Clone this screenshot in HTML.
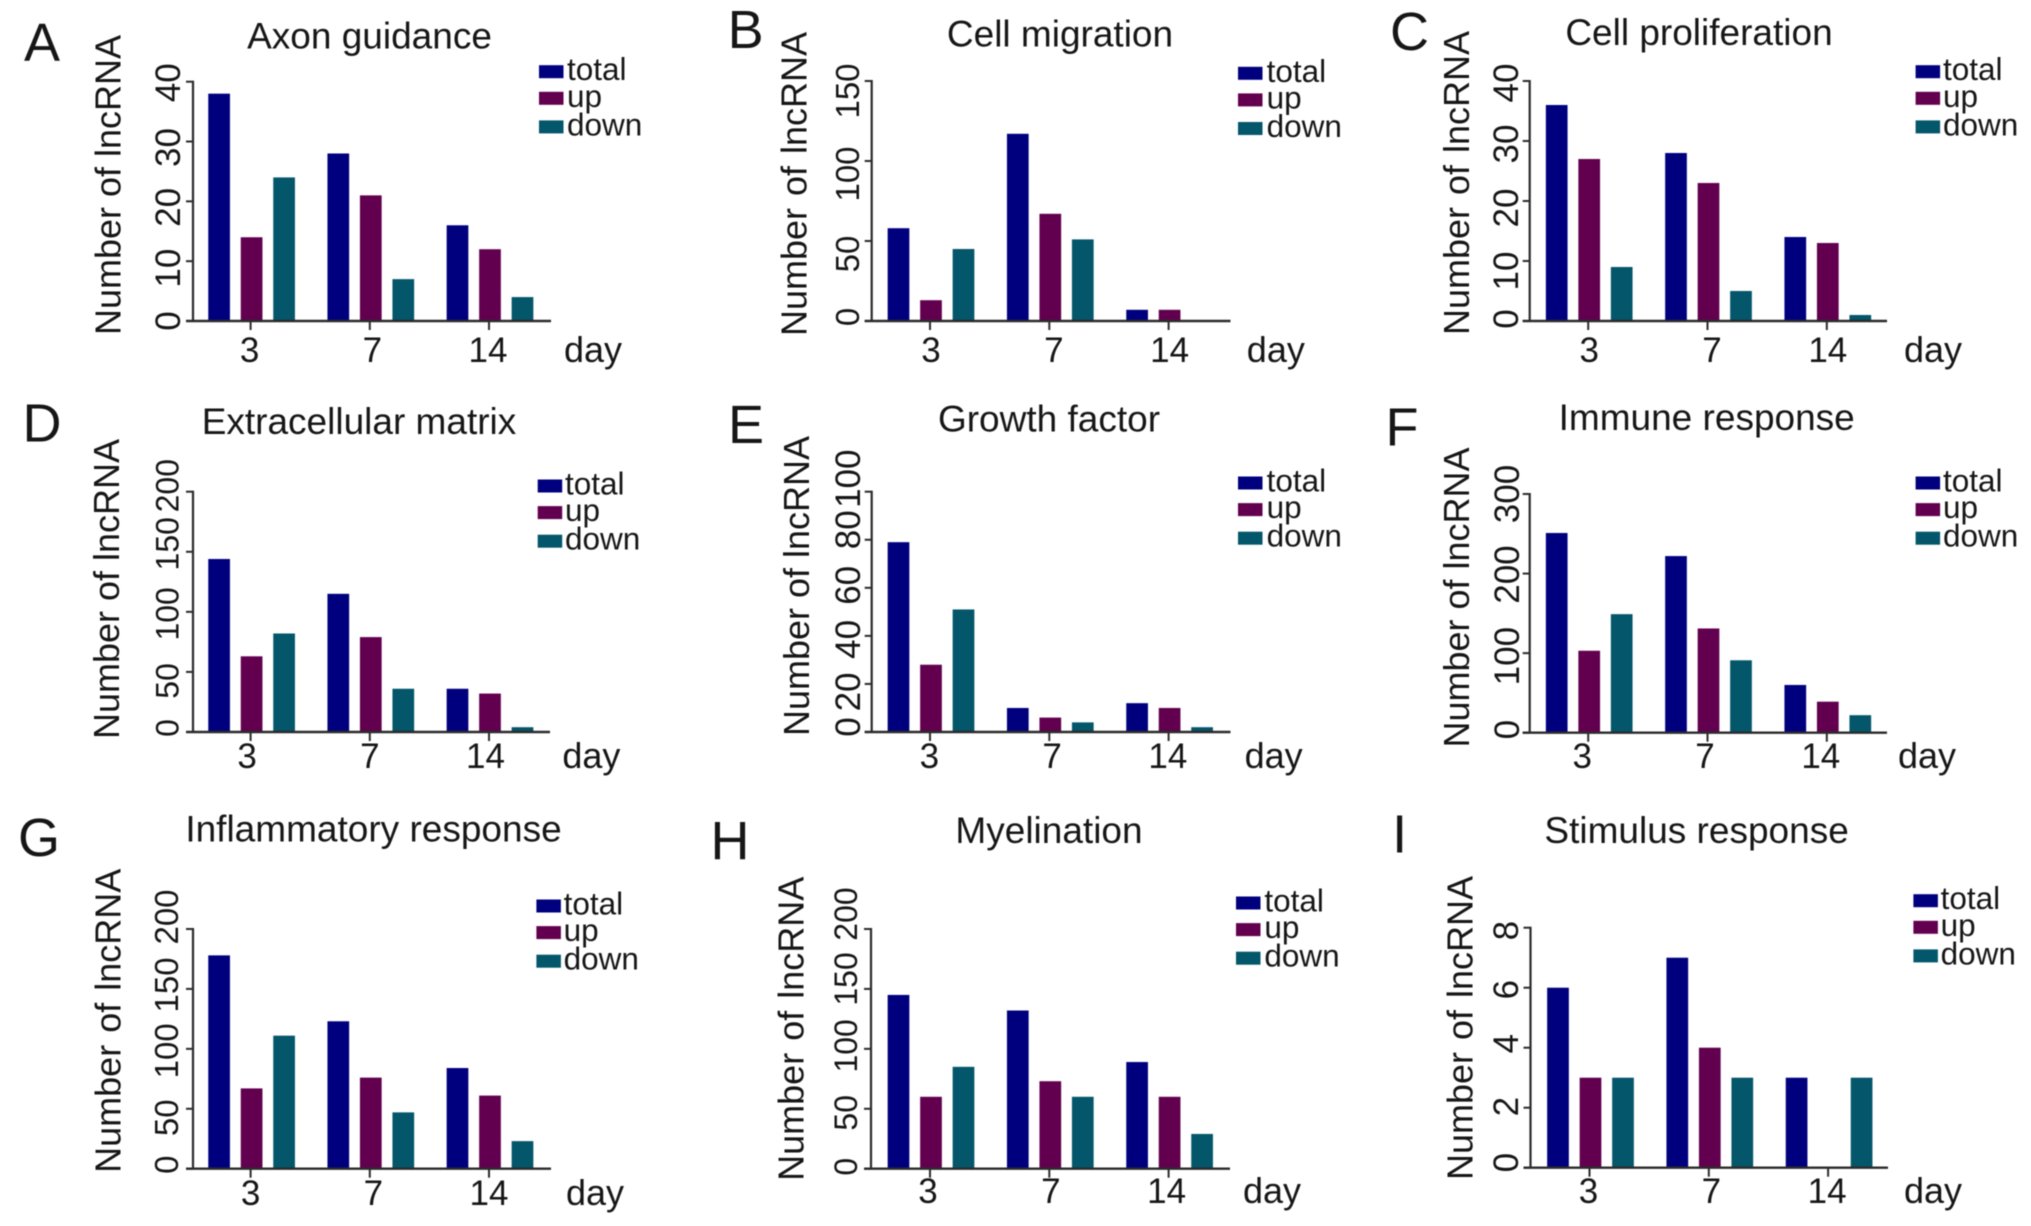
<!DOCTYPE html>
<html lang="en">
<head>
<meta charset="utf-8">
<title>lncRNA counts by functional category</title>
<style>
  html, body { margin: 0; padding: 0; background: #fff; }
  #figure { display: block; width: 2031px; height: 1226px; filter: blur(0.6px); }
  text { font-family: "Liberation Sans", Arial, sans-serif; fill: #161616; }
</style>
</head>
<body>
<svg id="figure" xmlns="http://www.w3.org/2000/svg" width="2031" height="1226" viewBox="0 0 2031 1226"></svg>
<script>
// ---- Chart data ----
const days = ['3', '7', '14'];
const seriesNames = ['total', 'up', 'down'];

const axonTotal = [38, 28, 16];
const axonUp = [14, 21, 12];
const axonDown = [24, 7, 4];
const axonTicks = [0, 10, 20, 30, 40];

const migrationTotal = [58, 117, 7];
const migrationUp = [13, 67, 7];
const migrationDown = [45, 51, 0];
const migrationTicks = [0, 50, 100, 150];

const proliferationTotal = [36, 28, 14];
const proliferationUp = [27, 23, 13];
const proliferationDown = [9, 5, 1];
const proliferationTicks = [0, 10, 20, 30, 40];

const matrixTotal = [144, 115, 36];
const matrixUp = [63, 79, 32];
const matrixDown = [82, 36, 4];
const matrixTicks = [0, 50, 100, 150, 200];

const growthTotal = [79, 10, 12];
const growthUp = [28, 6, 10];
const growthDown = [51, 4, 2];
const growthTicks = [0, 20, 40, 60, 80, 100];

const immuneTotal = [251, 222, 60];
const immuneUp = [103, 131, 39];
const immuneDown = [149, 91, 22];
const immuneTicks = [0, 100, 200, 300];

const inflammatoryTotal = [178, 123, 84];
const inflammatoryUp = [67, 76, 61];
const inflammatoryDown = [111, 47, 23];
const inflammatoryTicks = [0, 50, 100, 150, 200];

const myelinationTotal = [145, 132, 89];
const myelinationUp = [60, 73, 60];
const myelinationDown = [85, 60, 29];
const myelinationTicks = [0, 50, 100, 150, 200];

const stimulusTotal = [6, 7, 3];
const stimulusUp = [3, 4, 0];
const stimulusDown = [3, 3, 3];
const stimulusTicks = [0, 2, 4, 6, 8];

// ---- Panel definitions: data references first, layout in `box` ----
const panels = [
  { id: 'a', letter: 'A', title: 'Axon guidance', total: axonTotal, up: axonUp, down: axonDown, ticks: axonTicks,
    box: { axisX: 193, top: 81.7, base: 321, tick0: 250.6, step: 119.2, right: 551, letterX: 42, letterY: 61, titleX: 369.5, titleY: 48.3, yTitleX: 120.6, yTitleY: 185, wordGap: 0, tickLabelX: 180, tickFont: 35, nudge: { 0: 0, 10: 7, 20: 6, 30: 6, 40: 1 }, legX: 539, legTextX: 567, legY: 71.7, dayX: 564, dayY: 362, xLabelShift: -1 } },
  { id: 'b', letter: 'B', title: 'Cell migration', total: migrationTotal, up: migrationUp, down: migrationDown, ticks: migrationTicks,
    box: { axisX: 871.7, top: 81, base: 321, tick0: 930, step: 119.3, right: 1230.5, letterX: 745.7, letterY: 48, titleX: 1060, titleY: 46.7, yTitleX: 806.6, yTitleY: 184, wordGap: 2, tickLabelX: 859, tickFont: 33, nudge: { 0: -4, 50: 13, 100: 13, 150: 10 }, legX: 1238, legTextX: 1266.6, legY: 73.3, dayX: 1246.8, dayY: 362, xLabelShift: 1 } },
  { id: 'c', letter: 'C', title: 'Cell proliferation', total: proliferationTotal, up: proliferationUp, down: proliferationDown, ticks: proliferationTicks,
    box: { axisX: 1529.7, top: 81, base: 321, tick0: 1588.2, step: 119.3, right: 1887, letterX: 1409.5, letterY: 50, titleX: 1699, titleY: 45, yTitleX: 1469, yTitleY: 183, wordGap: 2, tickLabelX: 1518, tickFont: 35, nudge: { 0: -2, 10: 10, 20: 7, 30: 3, 40: 2 }, legX: 1915.6, legTextX: 1943, legY: 71.7, dayX: 1904, dayY: 362, xLabelShift: 1 } },
  { id: 'd', letter: 'D', title: 'Extracellular matrix', total: matrixTotal, up: matrixUp, down: matrixDown, ticks: matrixTicks,
    box: { axisX: 193, top: 491.7, base: 732, tick0: 250.6, step: 119.2, right: 550, letterX: 42, letterY: 441.7, titleX: 359, titleY: 434, yTitleX: 119, yTitleY: 589, wordGap: 0, tickLabelX: 178.7, tickFont: 32, nudge: { 0: -4, 50: 9, 100: 2, 150: -8, 200: -6 }, legX: 537.7, legTextX: 565, legY: 486, dayX: 562.4, dayY: 768, xLabelShift: -3.5 } },
  { id: 'e', letter: 'E', title: 'Growth factor', total: growthTotal, up: growthUp, down: growthDown, ticks: growthTicks,
    box: { axisX: 871.7, top: 491.7, base: 732, tick0: 930, step: 119.3, right: 1230.5, letterX: 746, letterY: 443, titleX: 1049, titleY: 431.7, yTitleX: 809, yTitleY: 586, wordGap: 0, tickLabelX: 860, tickFont: 35, nudge: { 0: -5, 20: 8, 40: 3.5, 60: -2.5, 80: -10, 100: -13 }, legX: 1238, legTextX: 1266.6, legY: 483, dayX: 1244.6, dayY: 768, xLabelShift: -0.7 } },
  { id: 'f', letter: 'F', title: 'Immune response', total: immuneTotal, up: immuneUp, down: immuneDown, ticks: immuneTicks,
    box: { axisX: 1529.7, top: 494, base: 732.7, tick0: 1588.2, step: 119.3, right: 1887, letterX: 1402, letterY: 445.7, titleX: 1706.7, titleY: 430, yTitleX: 1469, yTitleY: 597.5, wordGap: 0, tickLabelX: 1519, tickFont: 35, nudge: { 0: -3, 100: 3, 200: 1, 300: 0 }, legX: 1915.6, legTextX: 1943, legY: 483, dayX: 1898, dayY: 768, xLabelShift: -6 } },
  { id: 'g', letter: 'G', title: 'Inflammatory response', total: inflammatoryTotal, up: inflammatoryUp, down: inflammatoryDown, ticks: inflammatoryTicks,
    box: { axisX: 193, top: 929, base: 1168.7, tick0: 250.6, step: 119.2, right: 551, letterX: 39, letterY: 856, titleX: 373.5, titleY: 841.7, yTitleX: 120.6, yTitleY: 1020.8, wordGap: 2, tickLabelX: 177.8, tickFont: 33, nudge: { 0: -4, 50: 9, 100: 2, 150: -4, 200: -12 }, legX: 536.4, legTextX: 563.6, legY: 906, dayX: 566, dayY: 1205, xLabelShift: 0 } },
  { id: 'h', letter: 'H', title: 'Myelination', total: myelinationTotal, up: myelinationUp, down: myelinationDown, ticks: myelinationTicks,
    box: { axisX: 871, top: 929, base: 1168.7, tick0: 930, step: 119.3, right: 1230, letterX: 730, letterY: 859, titleX: 1049, titleY: 843, yTitleX: 803.6, yTitleY: 1028.8, wordGap: 2, tickLabelX: 857, tickFont: 32, nudge: { 0: -2, 50: 4, 100: -3, 150: -10, 200: -15 }, legX: 1236, legTextX: 1264.4, legY: 903, dayX: 1243, dayY: 1203, xLabelShift: -2 } },
  { id: 'i', letter: 'I', title: 'Stimulus response', total: stimulusTotal, up: stimulusUp, down: stimulusDown, ticks: stimulusTicks,
    box: { axisX: 1530.5, top: 927.7, base: 1167.7, tick0: 1589.5, step: 119.3, right: 1888, letterX: 1399.6, letterY: 852.7, titleX: 1696.6, titleY: 843, yTitleX: 1472.4, yTitleY: 1028, wordGap: 2, tickLabelX: 1518, tickFont: 35, nudge: { 0: -5, 2: -1, 4: -4, 6: 2, 8: 3 }, legX: 1913.4, legTextX: 1940.6, legY: 900.7, dayX: 1904, dayY: 1203, xLabelShift: -1 } }
];

// ---- Rendering ----
const NS = 'http://www.w3.org/2000/svg';
const figure = document.getElementById('figure');
const seriesColors = { total: '#00007f', up: '#62004f', down: '#04566a' };
const BAR_W = 21.7;
const BAR_STEP = 32.5;
const MID_LABEL_SHIFT = 3.5;

function make(parent, tag, attrs, content) {
  const el = document.createElementNS(NS, tag);
  for (const key in attrs) el.setAttribute(key, attrs[key]);
  if (content !== undefined) el.textContent = content;
  parent.appendChild(el);
  return el;
}

function drawPanel(p) {
  const b = p.box;
  const yMax = p.ticks[p.ticks.length - 1];
  const yScale = v => b.base - (v / yMax) * (b.base - b.top);
  const xScale = i => b.tick0 + i * b.step;

  const g = make(figure, 'g', {});
  
  

  const letter = make(g, 'text', { x: b.letterX, y: b.letterY, 'text-anchor': 'middle', 'font-size': 54 }, p.letter);
  
  

  const title = make(g, 'text', { x: b.titleX, y: b.titleY, 'text-anchor': 'middle', 'font-size': 37 }, p.title);
  
  

  const yTitle = make(g, 'text', {
    transform: 'translate(' + b.yTitleX + ',' + b.yTitleY + ') rotate(-90)',
    'text-anchor': 'middle', 'font-size': 36, 'word-spacing': b.wordGap
  }, 'Number of lncRNA');
  
  

  // bars
  seriesNames.forEach((name, s) => {
    p[name].forEach((value, i) => {
      const cx = xScale(i) + 1 + (s - 1) * BAR_STEP;
      const y = yScale(value);
      const bar = make(g, 'rect', { x: cx - BAR_W / 2, y: y, width: BAR_W, height: Math.max(0, b.base - y), fill: seriesColors[name] });
      
      
    });
  });

  // y axis
  const yAxis = make(g, 'line', { x1: b.axisX, x2: b.axisX, y1: b.top - 1, y2: b.base, stroke: '#2b2b2b', 'stroke-width': 2.2 });
  
  
  p.ticks.forEach(v => {
    const tick = make(g, 'line', { x1: b.axisX - 7, x2: b.axisX, y1: yScale(v), y2: yScale(v), stroke: '#2b2b2b', 'stroke-width': 2 });
    
    
    const label = make(g, 'text', {
      transform: 'translate(' + b.tickLabelX + ',' + (yScale(v) + (b.nudge[v] || 0)) + ') rotate(-90)',
      'text-anchor': 'middle', 'font-size': b.tickFont
    }, String(v));
    
    
  });

  // x axis
  const xAxis = make(g, 'line', { x1: b.axisX - 7, x2: b.right, y1: b.base, y2: b.base, stroke: '#2b2b2b', 'stroke-width': 2.4 });
  
  
  days.forEach((day, i) => {
    const tick = make(g, 'line', { x1: xScale(i), x2: xScale(i), y1: b.base, y2: b.base + 9, stroke: '#2b2b2b', 'stroke-width': 2 });
    
    
    const labelX = xScale(i) + b.xLabelShift + (i === 1 ? MID_LABEL_SHIFT : 0);
    const label = make(g, 'text', { x: labelX, y: b.dayY, 'text-anchor': 'middle', 'font-size': 35 }, day);
    
    
  });
  const dayLabel = make(g, 'text', { x: b.dayX, y: b.dayY, 'font-size': 36 }, 'day');
  
  

  // legend
  seriesNames.forEach((name, s) => {
    const cy = b.legY + s * 27.6 - (s === 1 ? 1 : 0);
    const swatch = make(g, 'rect', { x: b.legX, y: cy - 6.5, width: 24.5, height: 13, fill: seriesColors[name] });
    
    
    const entry = make(g, 'text', { x: b.legTextX, y: cy + 8.5, 'font-size': 31.5 }, name);
    
    
  });
}

panels.forEach(drawPanel);
</script>
</body>
</html>
